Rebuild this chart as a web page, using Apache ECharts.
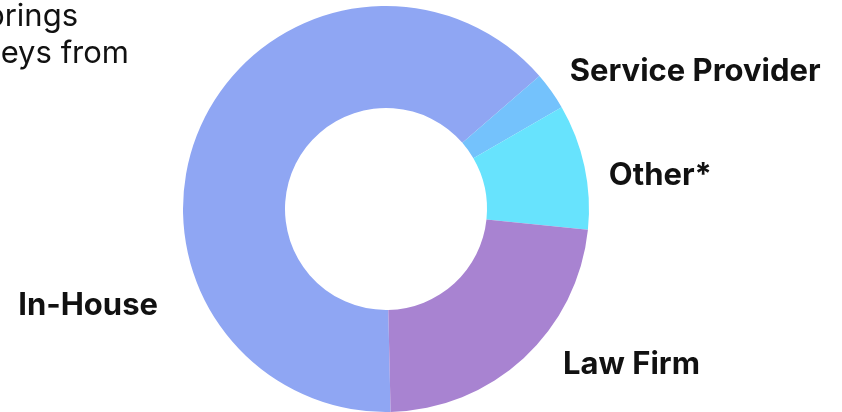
<!DOCTYPE html>
<html>
<head>
<meta charset="utf-8">
<script src="https://cdn.jsdelivr.net/npm/echarts@6/dist/echarts.min.js"></script>
<style>
html,body{margin:0;padding:0;background:#fff;}
#c{width:842px;height:412px;}
</style>
</head>
<body>
<div id="c"></div>
<script>
const categories = ['In-House', 'Service Provider', 'Other*', 'Law Firm'];
const values = [64, 3, 10, 23];
const colors = ['#8fa6f3', '#74c2fc', '#67e3fd', '#a883d1'];
const introLines = ['brings', 'eys from'];

const labelShift = [[-10, 191], [-11, -2], [-10, 16], [14, -16]];

const chart = echarts.init(document.getElementById('c'), null, {renderer: 'canvas'});
chart.setOption({
  backgroundColor: '#ffffff',
  animation: false,
  graphic: [
    {type: 'text', right: 842 - 78, top: 1, style: {text: introLines[0], font: '400 31px Inter', fill: '#111111', textAlign: 'right'}},
    {type: 'text', right: 842 - 129, top: 38, style: {text: introLines[1], font: '400 31px Inter', fill: '#111111', textAlign: 'right'}}
  ],
  series: [{
    type: 'pie',
    center: [386, 209],
    radius: [101, 203],
    startAngle: -88.7,
    clockwise: true,
    avoidLabelOverlap: false,
    label: {
      show: true,
      position: 'outside',
      color: '#111111',
      fontFamily: 'Inter',
      fontWeight: 700,
      fontSize: 31
    },
    labelLine: {show: false, length: 30, length2: 0},
    labelLayout: function (p) {
      const s = labelShift[p.dataIndex];
      return {dx: s[0], dy: s[1]};
    },
    emphasis: {disabled: true},
    data: categories.map((c, i) => ({name: c, value: values[i], itemStyle: {color: colors[i]}}))
  }]
});
</script>
</body>
</html>
